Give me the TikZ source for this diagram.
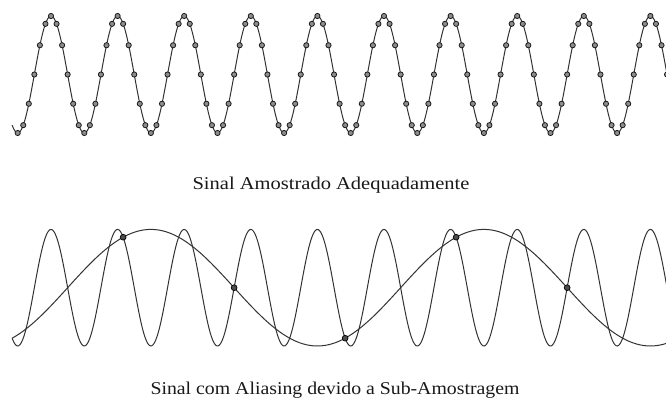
\documentclass[tikz,border=0pt]{standalone}
\usepackage{fontspec}
\setmainfont{Liberation Serif}
\usepackage{tikz}

\begin{document}
\begin{tikzpicture}[x=1pt, y=-1pt,
    onda/.style={line width=1pt, black!80, smooth},
    amostra/.style={circle, draw=black!90, fill=black!45, line width=0.8pt, inner sep=0pt, minimum size=5.2pt},
    amostrasub/.style={circle, draw=black, fill=black!70, line width=0.7pt, inner sep=0pt, minimum size=5.8pt},
    rotulo/.style={anchor=base, font=\fontsize{18}{20}\selectfont, text=black!90}]
    \clip (0,0) rectangle (666,401);
    \fill[white] (0,0) rectangle (666,401);

    % Sinal amostrado adequadamente
    \draw[onda, samples=500, domain=12.15:670] plot (\x, {74.5-58.5*cos(5.40541*(\x-51))});
    \foreach \k in {-6,...,112}
        \node[amostra] (ta\k) at ({51+\k*5.55},{74.5-58.5*cos(30*\k)}) {};

    % Legenda de cima
    \node[rotulo, xscale=1.14] (legendaA) at (331,189) {Sinal Amostrado Adequadamente};

    % Sinal original e sinal com aliasing
    \draw[onda, samples=500, domain=12.15:670] plot (\x, {287.7-58.3*cos(5.40541*(\x-51))});
    \draw[onda, samples=200, domain=12.15:670] plot (\x, {287.7-58.3*cos(1.08108*(\x-123.15)-30)});
    \foreach \k in {1,...,5}
        \node[amostrasub] (sa\k) at ({12.15+\k*111},{287.7-58.3*cos(150+240*\k)}) {};

    % Legenda de baixo
    \node[rotulo, xscale=1.10] (legendaB) at (335,394) {Sinal com Aliasing devido a Sub-Amostragem};
\end{tikzpicture}
\end{document}
